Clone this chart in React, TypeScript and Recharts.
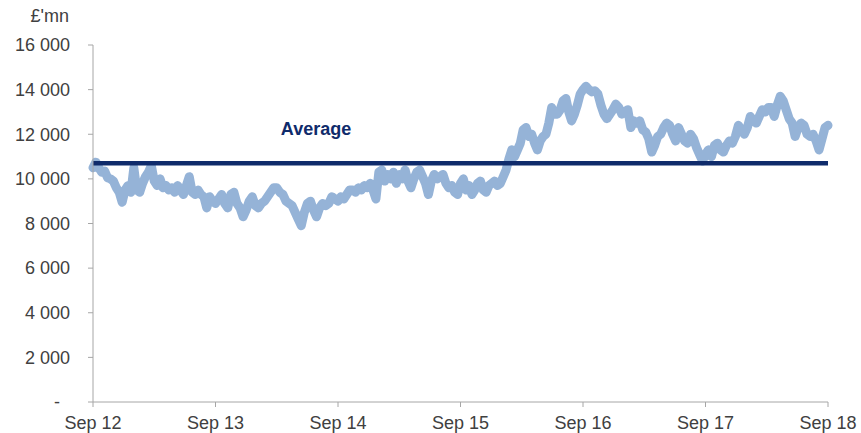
import React from "react";
import { LineChart, Line, XAxis, YAxis, ReferenceLine } from "recharts";

const tickLabels = ["Sep 12", "Sep 13", "Sep 14", "Sep 15", "Sep 16", "Sep 17", "Sep 18"];
const yTicks = [0, 2000, 4000, 6000, 8000, 10000, 12000, 14000, 16000];
const averageValue = 10700;

const year1 = [10500, 10750, 10500, 10300, 10350, 10050, 10000, 9900, 9600, 9400, 8950, 9500, 9700, 9400, 10500, 9500, 9400, 9800, 10100, 10300, 10600, 9900, 9700, 10000, 9600, 9700, 9500, 9600, 9400, 9700, 9500, 9300, 9700, 10100, 9400, 9300, 9500, 9300, 9200, 8700, 9200, 9000];
const year2 = [8900, 9100, 9300, 8900, 8700, 9300, 9400, 8900, 8700, 8300, 8600, 9000, 9200, 8800, 8700, 8900, 9000, 9200, 9400, 9600, 9600, 9400, 9300, 9000, 8900, 8800, 8500, 8200, 7900, 8500, 8900, 9000, 8600, 8300, 8700, 8900, 8800, 8900, 9200, 9100];
const year3 = [9000, 9200, 9100, 9300, 9500, 9500, 9400, 9600, 9500, 9700, 9600, 9800, 9500, 9100, 10300, 10400, 9900, 10200, 10000, 10300, 9800, 10200, 10000, 10400, 9900, 9600, 10000, 10300, 10400, 10100, 9800, 9300, 9900, 10200, 10000, 10100, 10200, 9800, 9600, 9700, 9400, 9300];
const year4 = [9800, 10000, 9500, 9700, 9300, 9500, 9800, 9900, 9500, 9400, 9700, 9800, 9900, 9700, 9800, 10100, 10400, 10900, 11300, 11000, 11300, 11600, 12200, 12300, 11900, 12000, 11600, 11300, 11700, 11900, 12000, 12500, 13200, 12900, 12900, 13100, 13500, 13600, 13000, 12600, 12900, 13300, 13800];
const year5 = [14000, 14150, 14000, 13900, 13950, 13800, 13300, 12900, 12700, 12900, 13100, 13350, 13200, 12900, 13000, 13100, 12300, 12600, 12500, 12600, 12200, 12100, 11800, 11200, 11500, 11900, 12000, 12300, 12500, 12400, 12000, 11700, 12300, 12000, 11700, 11600, 12000, 11800, 11400, 11100, 10800];
const year6 = [11100, 11300, 11000, 11500, 11600, 11300, 11200, 11500, 11700, 11600, 11900, 12400, 12200, 12000, 12300, 12800, 12600, 12500, 12800, 13100, 13000, 13200, 13200, 12800, 13300, 13700, 13500, 13100, 12700, 12500, 11900, 12300, 12500, 12400, 12000, 11900, 12000, 11700, 11300, 11800, 12300, 12400];

const years = [year1, year2, year3, year4, year5, year6];
const data: { t: number; v: number }[] = [];
years.forEach((arr, k) => {
  const last = k === years.length - 1;
  arr.forEach((v, i) => {
    data.push({ t: k + i / (last ? arr.length - 1 : arr.length), v });
  });
});

const FONT = "'Liberation Sans', Arial, sans-serif";
const TEXT = "#404040";

const YTick = (props: any) => {
  const { x, y, payload } = props;
  const v = payload.value as number;
  const label = v === 0 ? "-" : String(v).replace(/\B(?=(\d{3})+(?!\d))/g, " ");
  return (
    <text x={v === 0 ? x - 10 : x} y={y} dy="0.35em" textAnchor="end" fill={TEXT} fontSize={18} fontFamily={FONT}>
      {label}
    </text>
  );
};

const AvgLabel = (props: any) => {
  const { viewBox } = props;
  return (
    <text x={viewBox.x + 223} y={viewBox.y - 28} textAnchor="middle" fill="#0F2B6B" fontSize={18} fontWeight="bold" fontFamily={FONT}>
      Average
    </text>
  );
};

export default function App() {
  return (
    <div style={{ position: "absolute", left: 0, top: 0, width: 861, height: 433, background: "#fff" }}>
      <div style={{ position: "absolute", left: 0, top: 6, width: 69, textAlign: "right", fontFamily: FONT, fontSize: 18, color: TEXT }}>
        £'mn
      </div>
      <LineChart width={861} height={433} data={data} margin={{ top: 45, right: 33, bottom: 1, left: 0 }}>
        <XAxis
          dataKey="t"
          type="number"
          domain={[0, 6]}
          ticks={[0, 1, 2, 3, 4, 5, 6]}
          tickFormatter={(v: number) => tickLabels[v]}
          stroke="#A6A6A6"
          tickSize={5}
          tickMargin={9}
          tick={{ fill: TEXT, fontSize: 18, fontFamily: FONT }}
          height={30}
          interval={0}
        />
        <YAxis
          type="number"
          domain={[0, 16000]}
          ticks={yTicks}
          stroke="#A6A6A6"
          tickSize={5}
          tickMargin={18}
          width={93}
          tick={<YTick />}
          interval={0}
        />
        <Line
          dataKey="v"
          stroke="#95B3D7"
          strokeWidth={9}
          strokeLinejoin="round"
          strokeLinecap="round"
          dot={false}
          type="linear"
          isAnimationActive={false}
        />
        <ReferenceLine y={averageValue} stroke="#0F2B6B" strokeWidth={4.5} label={<AvgLabel />} />
      </LineChart>
    </div>
  );
}
